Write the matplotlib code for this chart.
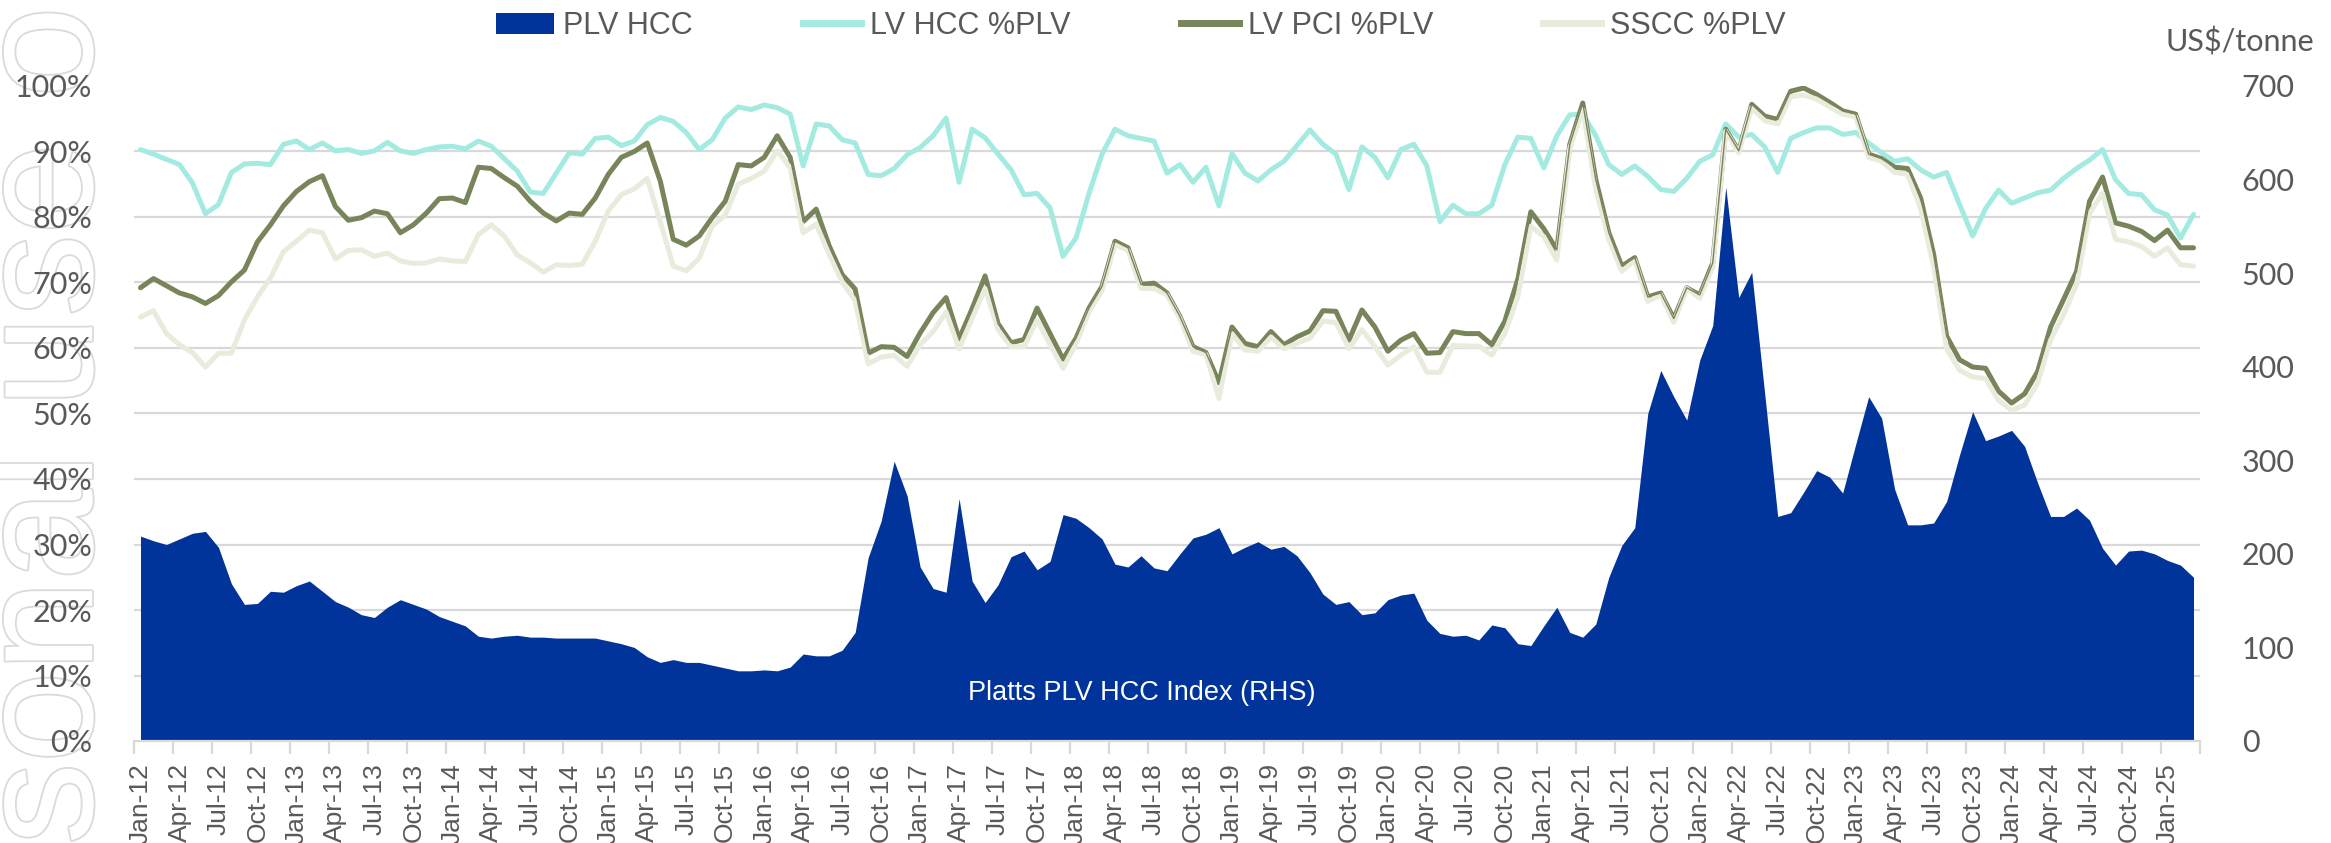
import numpy as np
import matplotlib
matplotlib.use("Agg")
import matplotlib.pyplot as plt
from matplotlib.lines import Line2D
from matplotlib.patches import Patch
from matplotlib.ticker import FixedLocator, MultipleLocator
import matplotlib.patheffects as pe

# ---------------- data (monthly, Jan-12 .. Mar-25) ----------------
start_year = 2012
month_names = ["Jan", "Feb", "Mar", "Apr", "May", "Jun",
               "Jul", "Aug", "Sep", "Oct", "Nov", "Dec"]

plv_hcc = [219, 214, 210, 216, 222, 224, 207, 168, 146, 147, 160, 159,
           166, 171, 160, 149, 143, 135, 132, 143, 151, 146, 141, 133,
           128, 123, 112, 110, 112, 113, 111, 111, 110, 110, 110, 110,
           107, 104, 100, 90, 84, 87, 84, 84, 81, 78, 75, 75,
           76, 75, 79, 93, 91, 91, 97, 116, 196, 235, 299, 262,
           186, 163, 159, 259, 171, 148, 167, 197, 203, 183, 192, 242,
           238, 228, 216, 189, 186, 198, 185, 182, 200, 217, 221, 228,
           200, 207, 213, 205, 208, 198, 180, 157, 146, 149, 135, 137,
           151, 156, 158, 129, 115, 112, 113, 108, 124, 121, 104, 102,
           123, 143, 116, 111, 125, 175, 209, 228, 350, 396, 368, 343,
           407, 444, 592, 474, 501, 371, 240, 244, 266, 289, 282, 265,
           317, 368, 345, 269, 231, 231, 233, 256, 306, 352, 321, 326,
           332, 315, 276, 240, 240, 249, 236, 206, 188, 203, 204, 200,
           193, 188, 175]

lv_hcc_pct = [90.3, 89.6, 88.8, 88.0, 85.2, 80.5, 81.9, 86.8, 88.1, 88.2, 88.0, 91.1,
              91.6, 90.3, 91.3, 90.1, 90.3, 89.7, 90.1, 91.4, 90.1, 89.7, 90.3, 90.7,
              90.8, 90.4, 91.6, 90.8, 88.9, 87.0, 83.8, 83.6, 86.7, 89.8, 89.6, 92.0,
              92.2, 90.9, 91.6, 94.1, 95.2, 94.6, 92.9, 90.3, 91.8, 95.1, 96.8, 96.4,
              97.1, 96.7, 95.7, 87.8, 94.2, 93.9, 91.8, 91.3, 86.5, 86.3, 87.4, 89.5,
              90.6, 92.4, 95.1, 85.3, 93.4, 92.1, 89.6, 87.2, 83.4, 83.6, 81.4, 74.0,
              76.8, 83.6, 89.6, 93.4, 92.4, 92.0, 91.6, 86.7, 88.0, 85.3, 87.6, 81.7,
              89.7, 86.7, 85.5, 87.2, 88.5, 90.9, 93.3, 91.1, 89.6, 84.2, 90.7, 89.1,
              86.0, 90.3, 91.1, 87.8, 79.3, 81.8, 80.5, 80.5, 81.8, 88.0, 92.2, 92.0,
              87.5, 92.4, 95.6, 95.7, 92.4, 88.0, 86.5, 87.8, 86.2, 84.2, 83.9, 85.9,
              88.5, 89.5, 94.2, 92.2, 92.6, 90.7, 86.8, 92.0, 92.9, 93.6, 93.6, 92.6,
              92.9, 91.3, 89.8, 88.5, 88.9, 87.2, 86.1, 86.8, 81.9, 77.1, 81.3, 84.1,
              82.1, 82.9, 83.7, 84.1, 85.9, 87.4, 88.7, 90.3, 85.7, 83.6, 83.4, 81.1,
              80.3, 76.8, 80.4]

lv_pci_pct = [69.2, 70.6, 69.5, 68.4, 67.8, 66.8, 68.0, 70.1, 71.9, 76.2, 78.8, 81.7,
              83.9, 85.4, 86.3, 81.6, 79.5, 79.9, 80.9, 80.5, 77.6, 78.8, 80.6, 82.8,
              82.9, 82.2, 87.6, 87.4, 86.0, 84.7, 82.4, 80.6, 79.4, 80.6, 80.4, 82.9,
              86.5, 89.1, 90.0, 91.3, 85.5, 76.6, 75.7, 77.1, 79.9, 82.4, 88.0, 87.8,
              89.1, 92.4, 89.1, 79.3, 81.2, 75.6, 71.2, 69.0, 59.2, 60.2, 60.1, 58.7,
              62.3, 65.4, 67.7, 61.4, 66.0, 71.0, 63.7, 60.8, 61.3, 66.1, 62.2, 58.3,
              61.5, 66.1, 69.4, 76.3, 75.3, 69.7, 69.9, 68.4, 64.8, 60.2, 59.3, 54.7,
              63.2, 60.7, 60.2, 62.5, 60.5, 61.7, 62.6, 65.7, 65.6, 61.2, 65.8, 63.2,
              59.5, 61.2, 62.2, 59.2, 59.3, 62.5, 62.2, 62.2, 60.5, 64.1, 70.5, 80.8,
              78.2, 75.0, 91.1, 97.4, 85.7, 77.6, 72.5, 73.8, 67.8, 68.4, 64.5, 69.2,
              68.1, 73.0, 93.4, 90.1, 97.2, 95.4, 94.9, 99.2, 99.7, 98.7, 97.5, 96.2,
              95.7, 89.6, 88.9, 87.6, 87.4, 82.9, 74.3, 61.8, 58.2, 57.1, 56.9, 53.4,
              51.6, 53.0, 56.4, 63.2, 67.4, 71.7, 82.4, 86.1, 79.1, 78.6, 77.8, 76.4,
              78.0, 75.3, 75.3]

sscc_pct = [64.7, 65.7, 62.2, 60.5, 59.3, 57.1, 59.2, 59.2, 64.3, 67.8, 70.7, 74.7,
            76.3, 78.0, 77.6, 73.6, 74.9, 75.0, 74.0, 74.5, 73.3, 72.9, 73.0, 73.6,
            73.3, 73.2, 77.3, 78.8, 77.1, 74.2, 73.0, 71.6, 72.7, 72.6, 72.8, 76.3,
            80.9, 83.4, 84.3, 85.9, 79.3, 72.5, 71.8, 73.7, 78.6, 80.3, 85.0, 85.9,
            87.0, 90.1, 87.5, 77.6, 78.9, 74.3, 70.1, 67.2, 57.6, 58.6, 58.9, 57.2,
            60.5, 62.5, 65.5, 59.9, 64.5, 69.1, 62.8, 60.2, 60.2, 64.3, 60.5, 56.9,
            60.7, 65.5, 68.8, 75.8, 74.9, 69.1, 69.1, 68.1, 64.5, 59.5, 59.0, 52.3,
            62.2, 59.7, 59.5, 61.7, 59.9, 60.7, 61.5, 64.1, 63.9, 59.9, 62.8, 60.2,
            57.4, 58.9, 60.2, 56.3, 56.3, 60.4, 60.3, 60.3, 58.9, 62.2, 67.8, 78.6,
            77.0, 73.4, 90.5, 96.4, 84.2, 76.6, 71.7, 73.4, 67.1, 68.1, 63.9, 69.1,
            67.6, 72.4, 93.1, 89.8, 96.7, 94.7, 94.2, 98.4, 98.6, 98.0, 96.8, 95.7,
            95.3, 89.1, 88.5, 86.8, 86.5, 81.3, 72.4, 59.9, 56.6, 55.6, 55.3, 52.0,
            50.5, 51.3, 54.6, 61.2, 65.1, 69.7, 80.6, 83.6, 76.6, 76.2, 75.5, 74.0,
            75.3, 72.7, 72.5]

left_ticks = [0, 10, 20, 30, 40, 50, 60, 70, 80, 90, 100]
right_ticks = [0, 100, 200, 300, 400, 500, 600, 700]

series_labels = ["PLV HCC", "LV HCC %PLV", "LV PCI %PLV", "SSCC %PLV"]

# ---------------- styling ----------------
C_BLUE = "#00349A"
C_CYAN = "#A3EBE0"
C_OLIVE = "#78845A"
C_PALE = "#E9EBDC"
C_GRID = "#D9D9D9"
C_TEXT = "#595959"

N = len(plv_hcc)
x = np.arange(N) + 0.5
month_labels = [f"{month_names[i % 12]}-{(start_year + i // 12) % 100:02d}" for i in range(N)]

fig = plt.figure(figsize=(23.31, 8.43), dpi=100)
L, R, T, B = 134, 2200, 86, 741
W, H = 2331, 843

# watermark (behind everything)
fig.text(92 / W, -530 / H, "For personal use only", rotation=90, rotation_mode="anchor",
         ha="left", va="baseline", fontsize=118, family="Liberation Sans",
         color="white", zorder=-5,
         path_effects=[pe.withStroke(linewidth=2.6, foreground="#DADADA")])

# right axis (area) drawn first
ax_area = fig.add_axes([L / W, 1 - B / H, (R - L) / W, (B - T) / H])
ax_area.yaxis.tick_right()
ax_area.set_ylim(0, 700)
ax_area.set_xlim(0, N)
ax_area.fill_between(x, 0, plv_hcc, color=C_BLUE, lw=0, zorder=2)
ax_area.yaxis.set_major_locator(FixedLocator(right_ticks))
ax_area.yaxis.set_minor_locator(MultipleLocator(70))
ax_area.grid(which="minor", axis="y", color=C_GRID, lw=1.6, zorder=0)
ax_area.set_axisbelow(True)
ax_area.tick_params(axis="y", which="both", length=0, pad=30, labelsize=22,
                    labelcolor=C_TEXT, labelright=True, labelleft=False)
for lab in ax_area.get_yticklabels():
    lab.set_family("Lato")
ax_area.tick_params(axis="x", which="both", bottom=False, labelbottom=False,
                    top=False, labeltop=False)
for s in ax_area.spines.values():
    s.set_visible(False)

# left axis (percent lines) on top
ax_l = fig.add_axes([L / W, 1 - B / H, (R - L) / W, (B - T) / H])
ax_l.patch.set_visible(False)
ax_l.set_ylim(0, 1.0)
ax_l.set_xlim(0, N)
kw = dict(solid_joinstyle="round", solid_capstyle="round")
ax_l.plot(x, np.array(lv_hcc_pct) / 100, color=C_CYAN, lw=3.6, zorder=3, **kw)
ax_l.plot(x, np.array(lv_pci_pct) / 100, color=C_OLIVE, lw=3.6, zorder=4, **kw)
ax_l.plot(x, np.array(sscc_pct) / 100, color=C_PALE, lw=3.6, zorder=5, **kw)
ax_l.plot(x, np.array(lv_pci_pct) / 100, color=C_OLIVE, lw=1.0, zorder=6, **kw)

ax_l.set_yticks([v / 100 for v in left_ticks])
ax_l.set_yticklabels([f"{v}%" for v in left_ticks], family="Lato")
ax_l.tick_params(axis="y", length=0, pad=30, labelsize=22, labelcolor=C_TEXT)

label_pos = [i + 0.5 for i in range(0, N, 3)]
ax_l.set_xticks(label_pos)
ax_l.set_xticklabels([month_labels[i] for i in range(0, N, 3)], rotation=90,
                     family="Liberation Sans")
ax_l.xaxis.set_minor_locator(FixedLocator(list(range(0, N + 1, 3))))
ax_l.tick_params(axis="x", which="major", length=0, pad=16, labelsize=19, labelcolor=C_TEXT)
ax_l.tick_params(axis="x", which="minor", length=9, width=1.6, color=C_GRID)
for k, s in ax_l.spines.items():
    s.set_visible(k == "bottom")
ax_l.spines["bottom"].set_color(C_GRID)
ax_l.spines["bottom"].set_linewidth(1.6)

ax_l.text(0.488, 0.073, "Platts PLV HCC Index (RHS)", transform=ax_l.transAxes,
          ha="center", va="center", color="white", fontsize=19.5,
          family="Liberation Sans", zorder=7)

# legend
handles = [Patch(facecolor=C_BLUE, edgecolor="none"),
           Line2D([0], [0], color=C_CYAN, lw=5),
           Line2D([0], [0], color=C_OLIVE, lw=5),
           Line2D([0], [0], color=C_PALE, lw=5)]
leg = fig.legend(handles, series_labels, ncol=4, loc="center",
                 bbox_to_anchor=(1141 / W, 1 - 26 / H), frameon=False,
                 prop={"family": "Liberation Sans", "size": 22},
                 handlelength=1.9, handleheight=0.7, handletextpad=0.3,
                 columnspacing=3.6, labelcolor=C_TEXT)

fig.text(2240 / W, 1 - 42 / H, "US$/tonne", ha="center", va="center",
         fontsize=22, family="Lato", color=C_TEXT)

fig.savefig("out.png", dpi=100)
